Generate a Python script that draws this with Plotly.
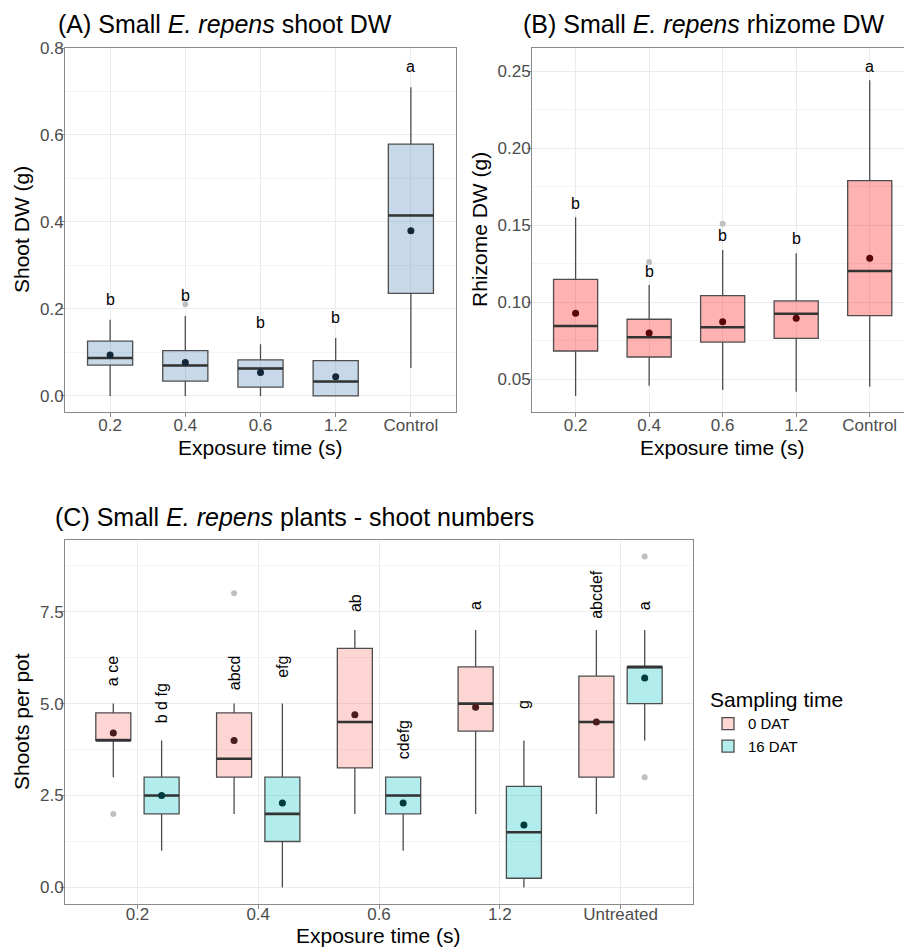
import plotly.graph_objects as go

# ---------------- Panel A data (shoot DW) ----------------
catA = ["0.2", "0.4", "0.6", "1.2", "Control"]
a_q1 = [0.071, 0.034, 0.020, 0.000, 0.236]
a_med = [0.087, 0.070, 0.063, 0.033, 0.415]
a_q3 = [0.126, 0.104, 0.083, 0.081, 0.579]
a_lo = [0.000, 0.000, 0.000, 0.000, 0.064]
a_hi = [0.175, 0.184, 0.119, 0.133, 0.710]
a_mean = [0.094, 0.077, 0.054, 0.044, 0.380]
a_out_cat = ["0.4"]
a_out_val = [0.211]
a_letters = ["b", "b", "b", "b", "a"]
a_letter_y = [0.222, 0.230, 0.168, 0.180, 0.757]

# ---------------- Panel B data (rhizome DW) ----------------
catB = ["0.2", "0.4", "0.6", "1.2", "Control"]
b_q1 = [0.0684, 0.0645, 0.0742, 0.0766, 0.0913]
b_med = [0.0846, 0.0773, 0.0838, 0.0926, 0.1203]
b_q3 = [0.1149, 0.0890, 0.1043, 0.1010, 0.1790]
b_lo = [0.0392, 0.0459, 0.0431, 0.0420, 0.0452]
b_hi = [0.1552, 0.1112, 0.1340, 0.1318, 0.2441]
b_mean = [0.0929, 0.0801, 0.0874, 0.0896, 0.1286]
b_out_cat = ["0.4", "0.6"]
b_out_val = [0.1262, 0.1510]
b_letters = ["b", "b", "b", "b", "a"]
b_letter_y = [0.1643, 0.1203, 0.1435, 0.1413, 0.2530]

# ---------------- Panel C data (shoot numbers) ----------------
catC = ["0.2", "0.4", "0.6", "1.2", "Untreated"]
groups = ["0 DAT", "16 DAT"]
c_q1 = {"0 DAT": [4.0, 3.0, 3.25, 4.25, 3.0], "16 DAT": [2.0, 1.25, 2.0, 0.25, 5.0]}
c_med = {"0 DAT": [4.0, 3.5, 4.5, 5.0, 4.5], "16 DAT": [2.5, 2.0, 2.5, 1.5, 6.0]}
c_q3 = {"0 DAT": [4.75, 4.75, 6.5, 6.0, 5.75], "16 DAT": [3.0, 3.0, 3.0, 2.75, 6.0]}
c_lo = {"0 DAT": [3.0, 2.0, 2.0, 2.0, 2.0], "16 DAT": [1.0, 0.0, 1.0, 0.0, 4.0]}
c_hi = {"0 DAT": [5.0, 5.0, 7.0, 7.0, 7.0], "16 DAT": [4.0, 5.0, 3.0, 4.0, 7.0]}
c_mean = {"0 DAT": [4.2, 4.0, 4.7, 4.9, 4.5], "16 DAT": [2.5, 2.3, 2.3, 1.7, 5.7]}
c_out_cat = ["0.2", "0.4", "Untreated", "Untreated"]
c_out_grp = ["0 DAT", "0 DAT", "16 DAT", "16 DAT"]
c_out_val = [2.0, 8.0, 9.0, 3.0]
c_letters = {"0 DAT": ["a ce", "abcd", "ab", "a", "abcdef"],
             "16 DAT": ["b d fg", "efg", "cdefg", "g", "a"]}
c_letter_y = {"0 DAT": [5.89, 5.83, 7.73, 7.67, 7.97],
              "16 DAT": [5.0, 6.01, 4.01, 4.99, 7.67]}

# ---------------- styling ----------------
FONT = "Liberation Sans, Arial, sans-serif"
W, H = 904, 948
fillA = "rgba(70,130,180,0.3)"
fillB = "rgba(255,0,0,0.3)"
fillC = {"0 DAT": "rgba(248,118,109,0.3)", "16 DAT": "rgba(0,191,196,0.3)"}
meanA = "#13263a"
meanB = "#5a0505"
meanC = {"0 DAT": "#4a1c1c", "16 DAT": "#003c3d"}
box_line = "#4d4d4d"
med_line = "#333333"
out_col = "#c0c0c0"

fig = go.Figure()


def add_panel(xa, ya, cats, q1, med, q3, lo, hi, mean, fill, mcol, offset, width,
              name, showlegend, out_cat=None, out_val=None):
    xs = [cats.index(c) + offset for c in cats]
    fig.add_trace(go.Box(
        x=xs, q1=q1, median=med, q3=q3, lowerfence=lo, upperfence=hi,
        width=width, fillcolor=fill, line=dict(color=box_line, width=1.3),
        whiskerwidth=0, boxpoints=False, name=name, showlegend=showlegend,
        legendgroup=name, xaxis=xa, yaxis=ya, hoverinfo="skip"))
    # thicker median line (as in ggplot)
    mx, my = [], []
    for x, m in zip(xs, med):
        mx += [x - width / 2, x + width / 2, None]
        my += [m, m, None]
    fig.add_trace(go.Scatter(x=mx, y=my, mode="lines",
                             line=dict(color=med_line, width=2.6),
                             showlegend=False, xaxis=xa, yaxis=ya, hoverinfo="skip"))
    fig.add_trace(go.Scatter(x=xs, y=mean, mode="markers",
                             marker=dict(color=mcol, size=7),
                             showlegend=False, xaxis=xa, yaxis=ya, hoverinfo="skip"))
    if out_cat:
        fig.add_trace(go.Scatter(x=[cats.index(c) + offset for c in out_cat], y=out_val,
                                 mode="markers", marker=dict(color=out_col, size=6),
                                 showlegend=False, xaxis=xa, yaxis=ya, hoverinfo="skip"))


add_panel("x", "y", catA, a_q1, a_med, a_q3, a_lo, a_hi, a_mean, fillA, meanA, 0, 0.6,
          "A", False, a_out_cat, a_out_val)
add_panel("x2", "y2", catB, b_q1, b_med, b_q3, b_lo, b_hi, b_mean, fillB, meanB, 0, 0.6,
          "B", False, b_out_cat, b_out_val)
for g, off in zip(groups, [-0.2, 0.2]):
    oc = [c for c, gg in zip(c_out_cat, c_out_grp) if gg == g]
    ov = [v for v, gg in zip(c_out_val, c_out_grp) if gg == g]
    add_panel("x3", "y3", catC, c_q1[g], c_med[g], c_q3[g], c_lo[g], c_hi[g], c_mean[g],
              fillC[g], meanC[g], off, 0.29, g, True, oc, ov)

annotations = []
for c, t, y in zip(catA, a_letters, a_letter_y):
    annotations.append(dict(x=catA.index(c), y=y, xref="x", yref="y", text=t, showarrow=False,
                            font=dict(size=16, color="black", family=FONT), yanchor="middle"))
for c, t, y in zip(catB, b_letters, b_letter_y):
    annotations.append(dict(x=catB.index(c), y=y, xref="x2", yref="y2", text=t, showarrow=False,
                            font=dict(size=16, color="black", family=FONT), yanchor="middle"))
for g, off in zip(groups, [-0.2, 0.2]):
    for c, t, y in zip(catC, c_letters[g], c_letter_y[g]):
        annotations.append(dict(x=catC.index(c) + off, y=y, xref="x3", yref="y3", text=t,
                                showarrow=False, textangle=-90,
                                font=dict(size=16, color="black", family=FONT),
                                xanchor="center", yanchor="middle"))


def px_x(p):
    return p / W


def px_y(p):
    return 1 - p / H


title_font = dict(size=25, color="black", family=FONT)
annotations += [
    dict(x=px_x(56), y=px_y(24), xref="paper", yref="paper", xanchor="left", yanchor="middle",
         text="(A) Small <i>E. repens</i> shoot DW", showarrow=False, font=title_font),
    dict(x=px_x(521), y=px_y(24), xref="paper", yref="paper", xanchor="left", yanchor="middle",
         text="(B) Small <i>E. repens</i> rhizome DW", showarrow=False, font=title_font),
    dict(x=px_x(53), y=px_y(517), xref="paper", yref="paper", xanchor="left", yanchor="middle",
         text="(C) Small <i>E. repens</i> plants - shoot numbers", showarrow=False, font=title_font),
]
axt_font = dict(size=21, color="black", family=FONT)
annotations += [
    dict(x=px_x(21), y=px_y(230), xref="paper", yref="paper", text="Shoot DW (g)", textangle=-90,
         showarrow=False, font=axt_font, xanchor="center", yanchor="middle"),
    dict(x=px_x(260.5), y=px_y(447), xref="paper", yref="paper", text="Exposure time (s)",
         showarrow=False, font=axt_font, xanchor="center", yanchor="middle"),
    dict(x=px_x(479), y=px_y(230), xref="paper", yref="paper", text="Rhizome DW (g)", textangle=-90,
         showarrow=False, font=axt_font, xanchor="center", yanchor="middle"),
    dict(x=px_x(722), y=px_y(447), xref="paper", yref="paper", text="Exposure time (s)",
         showarrow=False, font=axt_font, xanchor="center", yanchor="middle"),
    dict(x=px_x(21), y=px_y(722), xref="paper", yref="paper", text="Shoots per pot", textangle=-90,
         showarrow=False, font=axt_font, xanchor="center", yanchor="middle"),
    dict(x=px_x(378), y=0, xref="paper", yref="paper", text="Exposure time (s)",
         showarrow=False, font=axt_font, xanchor="center", yanchor="bottom", borderpad=0),
]

tick_font = dict(size=17, color="#4d4d4d", family=FONT)
common = dict(showline=True, mirror=True, linecolor="#8a8a8a", linewidth=1,
              ticks="outside", ticklen=4, tickcolor="#8a8a8a", tickfont=tick_font,
              showgrid=True, gridcolor="#ebebeb", gridwidth=1, zeroline=False,
              automargin=False)
xcommon = dict(ticklabelstandoff=-6, **common)
ycommon = dict(ticklabelstandoff=-7, **common)

fig.update_layout(
    width=W, height=H, margin=dict(l=0, r=0, t=0, b=0, pad=0, autoexpand=False),
    paper_bgcolor="white", plot_bgcolor="white",
    font=dict(family=FONT),
    xaxis=dict(domain=[px_x(65), px_x(456)], anchor="y", range=[-0.6, 4.6],
               tickvals=list(range(len(catA))), ticktext=catA, **xcommon),
    yaxis=dict(domain=[px_y(412), px_y(48)], anchor="x", range=[-0.037, 0.8],
               tickvals=[0, 0.2, 0.4, 0.6, 0.8], tickformat=".1f",
               minor=dict(tickvals=[0.1, 0.3, 0.5, 0.7], showgrid=True, gridcolor="#f4f4f4"),
               **ycommon),
    xaxis2=dict(domain=[px_x(532), 1.0], anchor="y2", range=[-0.593, 4.466],
                tickvals=list(range(len(catB))), ticktext=catB, **xcommon),
    yaxis2=dict(domain=[px_y(412), px_y(48)], anchor="x2", range=[0.0288, 0.2651],
                tickvals=[0.05, 0.10, 0.15, 0.20, 0.25], tickformat=".2f",
                minor=dict(tickvals=[0.075, 0.125, 0.175, 0.225], showgrid=True, gridcolor="#f4f4f4"),
                **ycommon),
    xaxis3=dict(domain=[px_x(65), px_x(693)], anchor="y3", range=[-0.6, 4.6],
                tickvals=list(range(len(catC))), ticktext=catC,
                **dict(common, ticklabelstandoff=-9)),
    yaxis3=dict(domain=[px_y(904), px_y(540)], anchor="x3", range=[-0.45, 9.45],
                tickvals=[0, 2.5, 5, 7.5], tickformat=".1f",
                minor=dict(tickvals=[1.25, 3.75, 6.25, 8.75], showgrid=True, gridcolor="#f4f4f4"),
                **ycommon),
    showlegend=True,
    legend=dict(x=px_x(708), y=px_y(680), xanchor="left", yanchor="top",
                title=dict(text="Sampling time", font=dict(size=21, color="black", family=FONT)),
                font=dict(size=15, color="black", family=FONT),
                bgcolor="rgba(0,0,0,0)", borderwidth=0, tracegroupgap=0, itemwidth=30),
    annotations=annotations,
)

fig.write_html(
    "out.html",
    config={"displayModeBar": False},
    post_script=(
        "document.body.style.margin='0px';"
        "document.body.style.overflow='hidden';"
        "var gd=document.getElementById('{plot_id}');"
        "gd.style.position='absolute';gd.style.top='0px';gd.style.left='0px';"
    ),
)
